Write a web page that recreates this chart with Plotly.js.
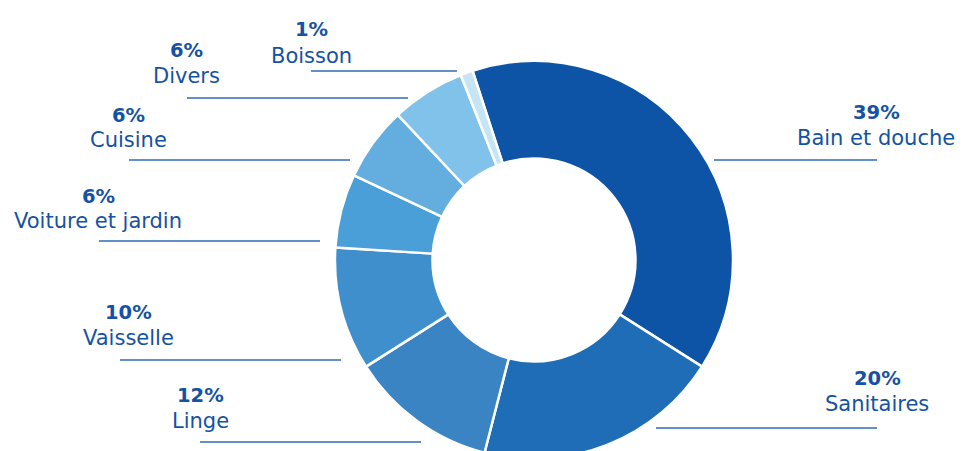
<!DOCTYPE html>
<html>
<head>
<meta charset="utf-8">
<script src="https://cdn.plot.ly/plotly-3.0.1.min.js"></script>
<style>
  html, body { margin: 0; padding: 0; overflow: hidden; background: #fff; }
  #chart { width: 963px; height: 460px; }
</style>
</head>
<body>
<div id="chart"></div>
<script>
// Data
const categories = ["Bain et douche", "Sanitaires", "Linge", "Vaisselle", "Voiture et jardin", "Cuisine", "Divers", "Boisson"];
const shares = [39, 20, 12, 10, 6, 6, 6, 1];
const sliceColors = ["#0E54A6", "#1E6DB6", "#3A84C4", "#3F8FCD", "#4A9FD8", "#64AEDF", "#80C2EA", "#C5E5F6"];

// Layout helpers (pixel positions of label blocks and their underline segments)
const W = 963, H = 460;
const px = x => x / W;
const py = y => 1 - y / H;
const labelPos = [
  {x: 876, y: 112, lx0: 714, lx1: 877, ly: 160},
  {x: 877, y: 378, lx0: 656, lx1: 877, ly: 428},
  {x: 200, y: 395, lx0: 200, lx1: 421, ly: 442},
  {x: 128, y: 312, lx0: 120, lx1: 341, ly: 360},
  {x: 98,  y: 196, lx0: 99,  lx1: 320, ly: 241},
  {x: 128, y: 115, lx0: 129, lx1: 350, ly: 160},
  {x: 186, y: 50,  lx0: 187, lx1: 408, ly: 98},
  {x: 311, y: 30,  lx0: 311, lx1: 457, ly: 71}
];
const lineGap = 25.5;
const textColor = "#1552A3";
const lineColor = "#2F6DB5";

const trace = {
  type: "pie",
  labels: categories,
  values: shares,
  hole: 0.51,
  sort: false,
  direction: "clockwise",
  rotation: -18,
  textinfo: "none",
  hoverinfo: "label+percent",
  marker: { colors: sliceColors, line: { color: "#ffffff", width: 2.5 } },
  domain: { x: [px(335), px(733)], y: [1 / H, py(61)] },
  showlegend: false
};

const annotations = [];
categories.forEach((c, i) => {
  annotations.push({
    xref: "paper", yref: "paper",
    x: px(labelPos[i].x), y: py(labelPos[i].y),
    xanchor: "center", yanchor: "middle", showarrow: false,
    text: "<b>" + shares[i] + "%</b>",
    font: { family: "DejaVu Sans, sans-serif", size: 19.5, color: textColor }
  });
  annotations.push({
    xref: "paper", yref: "paper",
    x: px(labelPos[i].x), y: py(labelPos[i].y + lineGap),
    xanchor: "center", yanchor: "middle", showarrow: false,
    text: c,
    font: { family: "DejaVu Sans, sans-serif", size: 21, color: textColor }
  });
});

const shapes = categories.map((c, i) => ({
  type: "line", xref: "paper", yref: "paper",
  x0: px(labelPos[i].lx0), x1: px(labelPos[i].lx1),
  y0: py(labelPos[i].ly), y1: py(labelPos[i].ly),
  line: { color: lineColor, width: 1.5 }
}));

const layout = {
  width: W, height: H,
  margin: { l: 0, r: 0, t: 0, b: 0 },
  paper_bgcolor: "#ffffff",
  plot_bgcolor: "#ffffff",
  annotations: annotations,
  shapes: shapes
};

Plotly.newPlot("chart", [trace], layout, { displayModeBar: false, staticPlot: true });
</script>
</body>
</html>
